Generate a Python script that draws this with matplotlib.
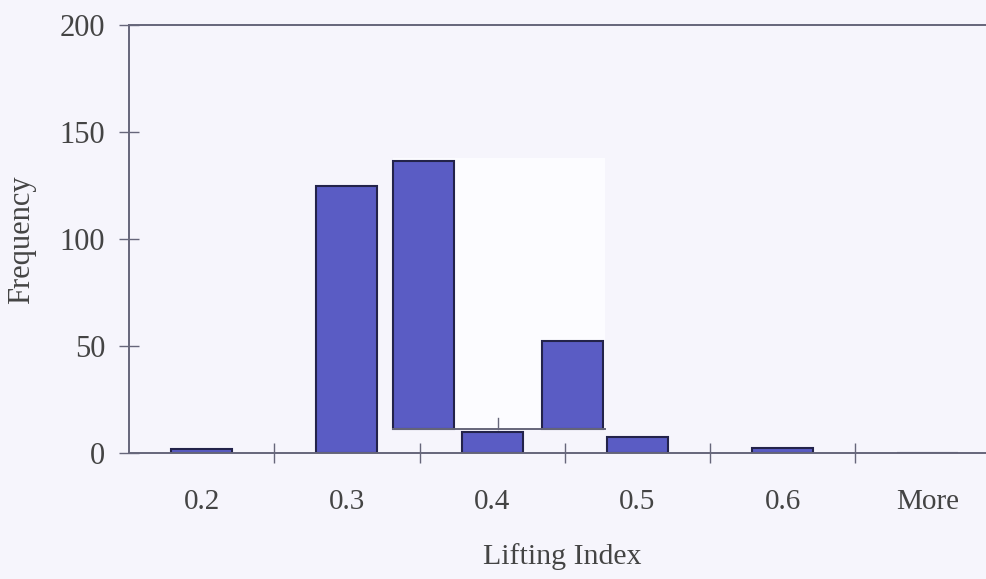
import matplotlib.pyplot as plt
from matplotlib.patches import Rectangle

# histogram bins and counts (main chart)
bins = ['0.2', '0.3', '0.4', '0.5', '0.6', 'More']
counts = [2, 125, 10, 7.5, 2.3, 0]

# the pasted-over strip in the scan: its own baseline and two bars
strip_base = 11.2
strip_counts = [125.2, 41.1]
strip_pos = [1.53, 2.55]

plt.rcParams['font.family'] = ['Liberation Serif', 'DejaVu Serif']
bg = '#f6f5fc'
grey = '#66667a'
txt = '#444444'
fill = '#5a5cc4'
edge = '#23234a'

fig = plt.figure(figsize=(9.86, 5.79), dpi=100, facecolor=bg)
ax = fig.add_axes([0.1308, 0.2176, 0.884, 0.7392])
ax.set_facecolor(bg)

x = list(range(len(bins)))
ax.bar(x, counts, width=0.42, color=fill, edgecolor=edge, linewidth=1.5, zorder=2)

ax.set_xlim(-0.5, len(bins) - 0.5)
ax.set_ylim(0, 200)
ax.set_yticks([0, 50, 100, 150, 200])
ax.set_xticks(x)
ax.set_xticklabels(bins)
ax.set_xticks([i + 0.5 for i in x[:-1]], minor=True)

for s in ['top', 'left', 'bottom']:
    ax.spines[s].set_color(grey)
    ax.spines[s].set_linewidth(1.4)
ax.spines['right'].set_visible(False)

ax.tick_params(axis='x', which='major', length=0, pad=26, labelsize=21, labelcolor=txt)
ax.tick_params(axis='x', which='minor', direction='inout', length=14, width=1, color=grey)
ax.tick_params(axis='y', direction='inout', length=14, width=1, color=grey, pad=10,
               labelsize=22, labelcolor=txt)

ax.set_ylabel('Frequency', fontsize=22, color=txt, rotation=90, ha='center', va='center')
ax.yaxis.set_label_coords(-0.1227, 0.4977)
ax.set_xlabel('Lifting Index', fontsize=21.5, color=txt, ha='center', va='center')
ax.xaxis.set_label_coords(0.4966, -0.2407)

# strip overlay
x0, x1 = 1.316, 2.774
ax.add_patch(Rectangle((x0, strip_base), x1 - x0, 137.9 - strip_base,
                       facecolor='#fcfcff', edgecolor='none', zorder=3))
ax.bar(strip_pos, strip_counts, bottom=strip_base, width=0.42, color=fill,
       edgecolor=edge, linewidth=1.5, zorder=4)
ax.plot([x0, x1], [strip_base, strip_base], color=grey, lw=1.4, zorder=5)
ax.plot([2.04, 2.04], [strip_base, strip_base + 5], color=grey, lw=1, zorder=5)

fig.savefig('out.png', dpi=100, facecolor=bg)
